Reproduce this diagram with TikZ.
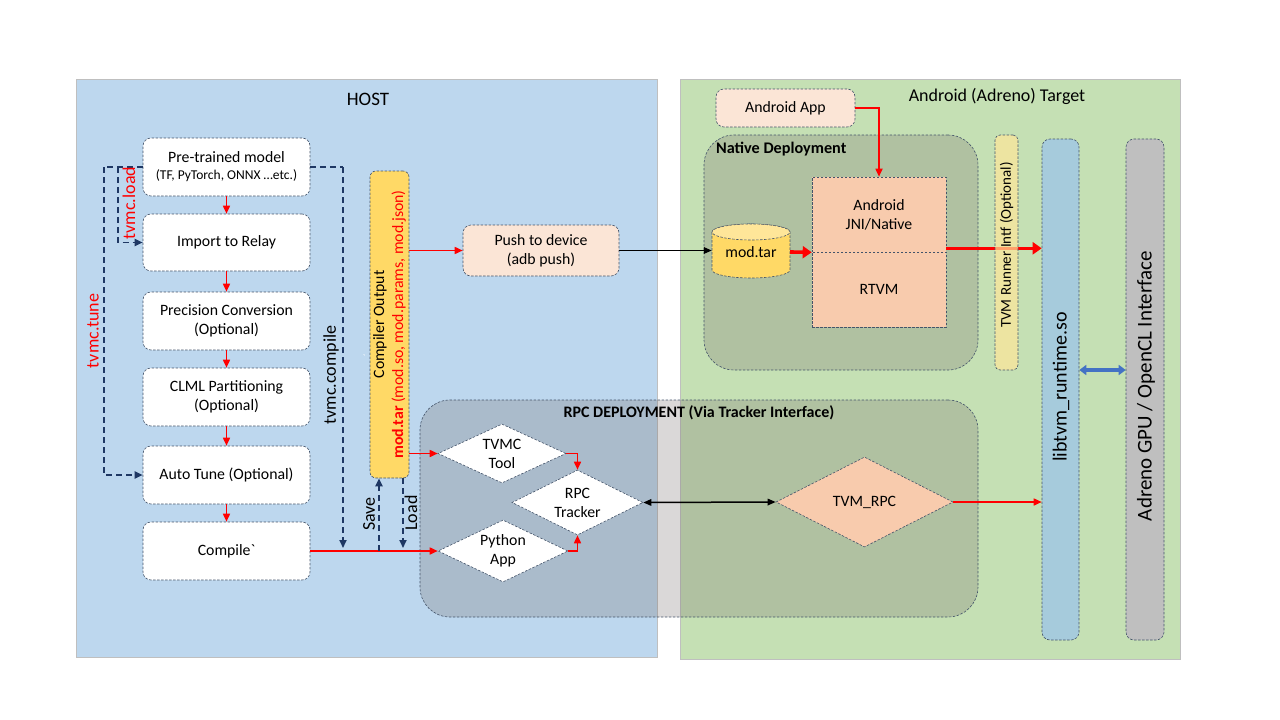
\documentclass[tikz,border=0pt]{standalone}
\usepackage{fontspec}
\setmainfont{Carlito}
\usetikzlibrary{arrows.meta,shapes.geometric,calc}
\definecolor{hostbg}{HTML}{BDD7EE}
\definecolor{andbg}{HTML}{C5E0B4}
\definecolor{bord}{HTML}{44546A}
\definecolor{navy}{HTML}{1F3864}
\definecolor{peach}{HTML}{FBE5D6}
\definecolor{salmon}{HTML}{F8CBAD}
\definecolor{gold}{HTML}{FFD966}
\definecolor{lgold}{HTML}{FFE699}
\definecolor{libc}{HTML}{A6CBDC}
\definecolor{gpuc}{HTML}{BFBFBF}
\definecolor{arrblue}{HTML}{4472C4}
\definecolor{grp}{HTML}{787070}
\tikzset{
  fnt/.style={font=\fontsize{15.8}{19}\selectfont},
  dbord/.style={draw=bord, dash pattern=on 2.5pt off 1.5pt, line width=0.6pt},
  box/.style={dbord, rounded corners=8pt, fill=white, align=center, fnt, inner sep=0pt},
  sqbox/.style={dbord, align=center, fnt, inner sep=0pt},
  diam/.style={diamond, dbord, fill=white, inner sep=0pt, aspect=2, align=center, fnt},
  grpbox/.style={dbord, fill=grp, fill opacity=0.27, rounded corners=30pt, inner sep=0pt},
  tip/.style={-{Triangle[length=8pt,width=7pt]}},
  rarr/.style={draw=red, line width=1.6pt, tip},
  thickred/.style={draw=red, line width=3.6pt, -{Triangle[length=9pt,width=12pt]}},
  nline/.style={draw=navy, line width=1.8pt, dash pattern=on 6pt off 4pt},
  narr/.style={nline, tip},
  barr/.style={draw=black, line width=1.6pt, -{Triangle[length=8pt,width=6.5pt]}},
  lbl/.style={rotate=90, font=\fontsize{18}{20}\selectfont, inner sep=0pt},
}
\begin{document}
\begin{tikzpicture}[x=1pt,y=-1pt]
\fill[white] (0,0) rectangle (1280,720);
\useasboundingbox (0,0) rectangle (1280,720);
% panels
\node[draw=gray!50, fill=hostbg, minimum width=581pt, minimum height=578pt, inner sep=0pt] (host) at (366.5,368) {};
\node[draw=gray!50, fill=andbg, minimum width=500pt, minimum height=580pt, inner sep=0pt] (andr) at (930,369) {};
\node[font=\fontsize{19}{22}\selectfont] (hostt) at (368,99) {HOST};
\node[font=\fontsize{18}{22}\selectfont] (andt) at (997,96) {Android (Adreno) Target};
% groups
\node[grpbox, minimum width=274pt, minimum height=235pt] (natgrp) at (841,252.5) {};
\node[font=\bfseries\fontsize{16.2}{18}\selectfont, anchor=west, inner sep=0pt] (natt) at (716,149) {Native Deployment};
\node[grpbox, minimum width=558pt, minimum height=217pt] (rpcgrp) at (699,508.5) {};
\node[font=\bfseries\fontsize{16}{18}\selectfont, inner sep=0pt] (rpct) at (699,413) {RPC DEPLOYMENT (Via Tracker Interface)};
% left pipeline
\node[box, minimum width=167pt, minimum height=58pt] (pre) at (226.5,167) {Pre-trained model\\[-2pt]{\fontsize{13.5}{15}\selectfont (TF, PyTorch, ONNX …etc.)}};
\node[box, minimum width=167pt, minimum height=57pt] (imp) at (226.5,242.5) {Import to Relay};
\node[box, minimum width=167pt, minimum height=58pt] (prec) at (226.5,321) {Precision Conversion\\(Optional)};
\node[box, minimum width=167pt, minimum height=58pt] (clml) at (226.5,397) {CLML Partitioning\\(Optional)};
\node[box, minimum width=167pt, minimum height=58pt] (tune) at (226.5,475) {Auto Tune (Optional)};
\node[box, minimum width=167pt, minimum height=58pt] (comp) at (226.5,551) {Compile\textasciigrave};
\draw[rarr] (pre) -- (imp);
\draw[rarr] (imp) -- (prec);
\draw[rarr] (prec) -- (clml);
\draw[rarr] (clml) -- (tune);
\draw[rarr] (tune) -- (comp);
% compiler output
\node[dbord, fill=gold, rounded corners=6pt, minimum width=39pt, minimum height=307pt, inner sep=0pt] (co) at (389.5,324.5) {};
\node[rotate=90, align=center, fnt, inner sep=0pt] (cot) at (co.center) {Compiler Output\\\textcolor{red}{\textbf{mod.tar} (mod.so, mod.params, mod.json)}};
\node[text=white, font=\fontsize{10}{10}\selectfont, inner sep=0pt] (tick) at (364,358) {\textasciigrave};
% navy dashed connectors
\coordinate (tl) at (104,167);
\coordinate (il) at (118,167);
\draw[nline] (pre.west) -- (tl);
\draw[narr] (tl) |- (tune.west);
\draw[narr] (il) |- (imp.west);
\coordinate (cr) at (343,167);
\coordinate (cd) at (343,548);
\draw[nline] (pre.east) -- (cr);
\draw[narr] (cr) -- (cd);
\node[lbl, text=red] (lload) at (129,203) {tvmc.load};
\node[lbl, text=red] (ltune) at (93,331) {tvmc.tune};
\node[lbl] (lcomp) at (331,375) {tvmc.compile};
\node[lbl] (lsave) at (369,514) {Save};
\node[lbl] (lldd) at (411,513) {Load};
% push
\node[box, fill=peach, minimum width=156pt, minimum height=51pt] (push) at (541,250.5) {Push to device\\(adb push)};
% diamonds
\node[diam, minimum width=128pt, minimum height=59pt] (tvmc) at (502,453.5) {TVMC\\Tool};
\node[diam, minimum width=131pt, minimum height=65pt] (rpc) at (577.5,502.5) {RPC\\Tracker};
\node[diam, minimum width=130pt, minimum height=62pt] (py) at (503,551) {Python\\App};
\node[diam, fill=salmon, minimum width=177pt, minimum height=90pt] (tvmrpc) at (864.5,502) {TVM\_RPC};
% red connectors host side
\draw[rarr] (comp.east) -- (comp.east -| py.west);
\coordinate (sv) at (379,551);
\draw[narr] (sv) -- (sv |- co.south);
\coordinate (ldb) at (403,548);
\draw[narr] (ldb |- co.south) -- (ldb);
\draw[rarr] (co.east |- push.west) -- (push.west);
\draw[rarr] (co.east |- tvmc.west) -- (tvmc.west);
\draw[rarr] (tvmc.east) -| (rpc.north);
\draw[rarr] (py.east) -| (rpc.south);
\draw[black, line width=1.5pt, {Triangle[length=8pt,width=6.5pt]}-{Triangle[length=8pt,width=6.5pt]}] (rpc.east) -- (tvmrpc.west);
% android side
\node[box, fill=peach, minimum width=139pt, minimum height=38pt] (app) at (785.5,108) {Android App};
\node[sqbox, fill=salmon, minimum width=134pt, minimum height=75pt] (jni) at (879,214.5) {Android\\JNI/Native};
\node[sqbox, fill=salmon, minimum width=134pt, minimum height=75pt] (rtvm) at (879,289.5) {RTVM};
\path[dbord, fill=gold] (712,232) -- (712,270) arc[start angle=180, end angle=360, x radius=39pt, y radius=8pt] -- (790,232) arc[start angle=0, end angle=180, x radius=39pt, y radius=8pt] -- cycle;
\path[dbord, fill=lgold] (751,232) ellipse [x radius=39pt, y radius=8pt];
\node[fnt, minimum width=78pt, minimum height=54pt, inner sep=0pt] (modtar) at (751,252) {mod.tar};
\node[dbord, fill=libc, rounded corners=8pt, minimum width=37pt, minimum height=501pt, inner sep=0pt] (lib) at (1060.5,389.5) {};
\node[rotate=90, font=\fontsize{20}{24}\selectfont, inner sep=0pt] (libt) at (1061,387) {libtvm\_runtime.so};
\node[dbord, fill=gpuc, rounded corners=8pt, minimum width=38pt, minimum height=501pt, inner sep=0pt] (gpu) at (1145,389.5) {};
\node[rotate=90, font=\fontsize{21}{24}\selectfont, inner sep=0pt] (gput) at (1146,386) {Adreno GPU / OpenCL Interface};
\draw[barr] (push.east) -- (push.east -| modtar.west);
\draw[rarr] (app.east) -| (jni.north);
\draw[thickred] (modtar.east) -- (jni.south west);
\draw[thickred] ([yshift=4pt]jni.south east) -- ([yshift=4pt]jni.south east -| lib.west);
\draw[rarr] (tvmrpc.east) -- (tvmrpc.east -| lib.west);
\node[dbord, fill=lgold, fill opacity=0.7, rounded corners=5pt, minimum width=23pt, minimum height=235pt, inner sep=0pt] (runner) at (1006.5,252.5) {};
\node[rotate=90, font=\fontsize{15}{16}\selectfont, inner sep=0pt] (runt) at (1006.5,245) {TVM Runner Intf (Optional)};
\draw[arrblue, line width=3.5pt, {Triangle[length=7pt,width=10pt]}-{Triangle[length=7pt,width=10pt]}] ([yshift=19.5pt]lib.east) -- ([yshift=19.5pt]lib.east -| gpu.west);
\end{tikzpicture}
\end{document}
